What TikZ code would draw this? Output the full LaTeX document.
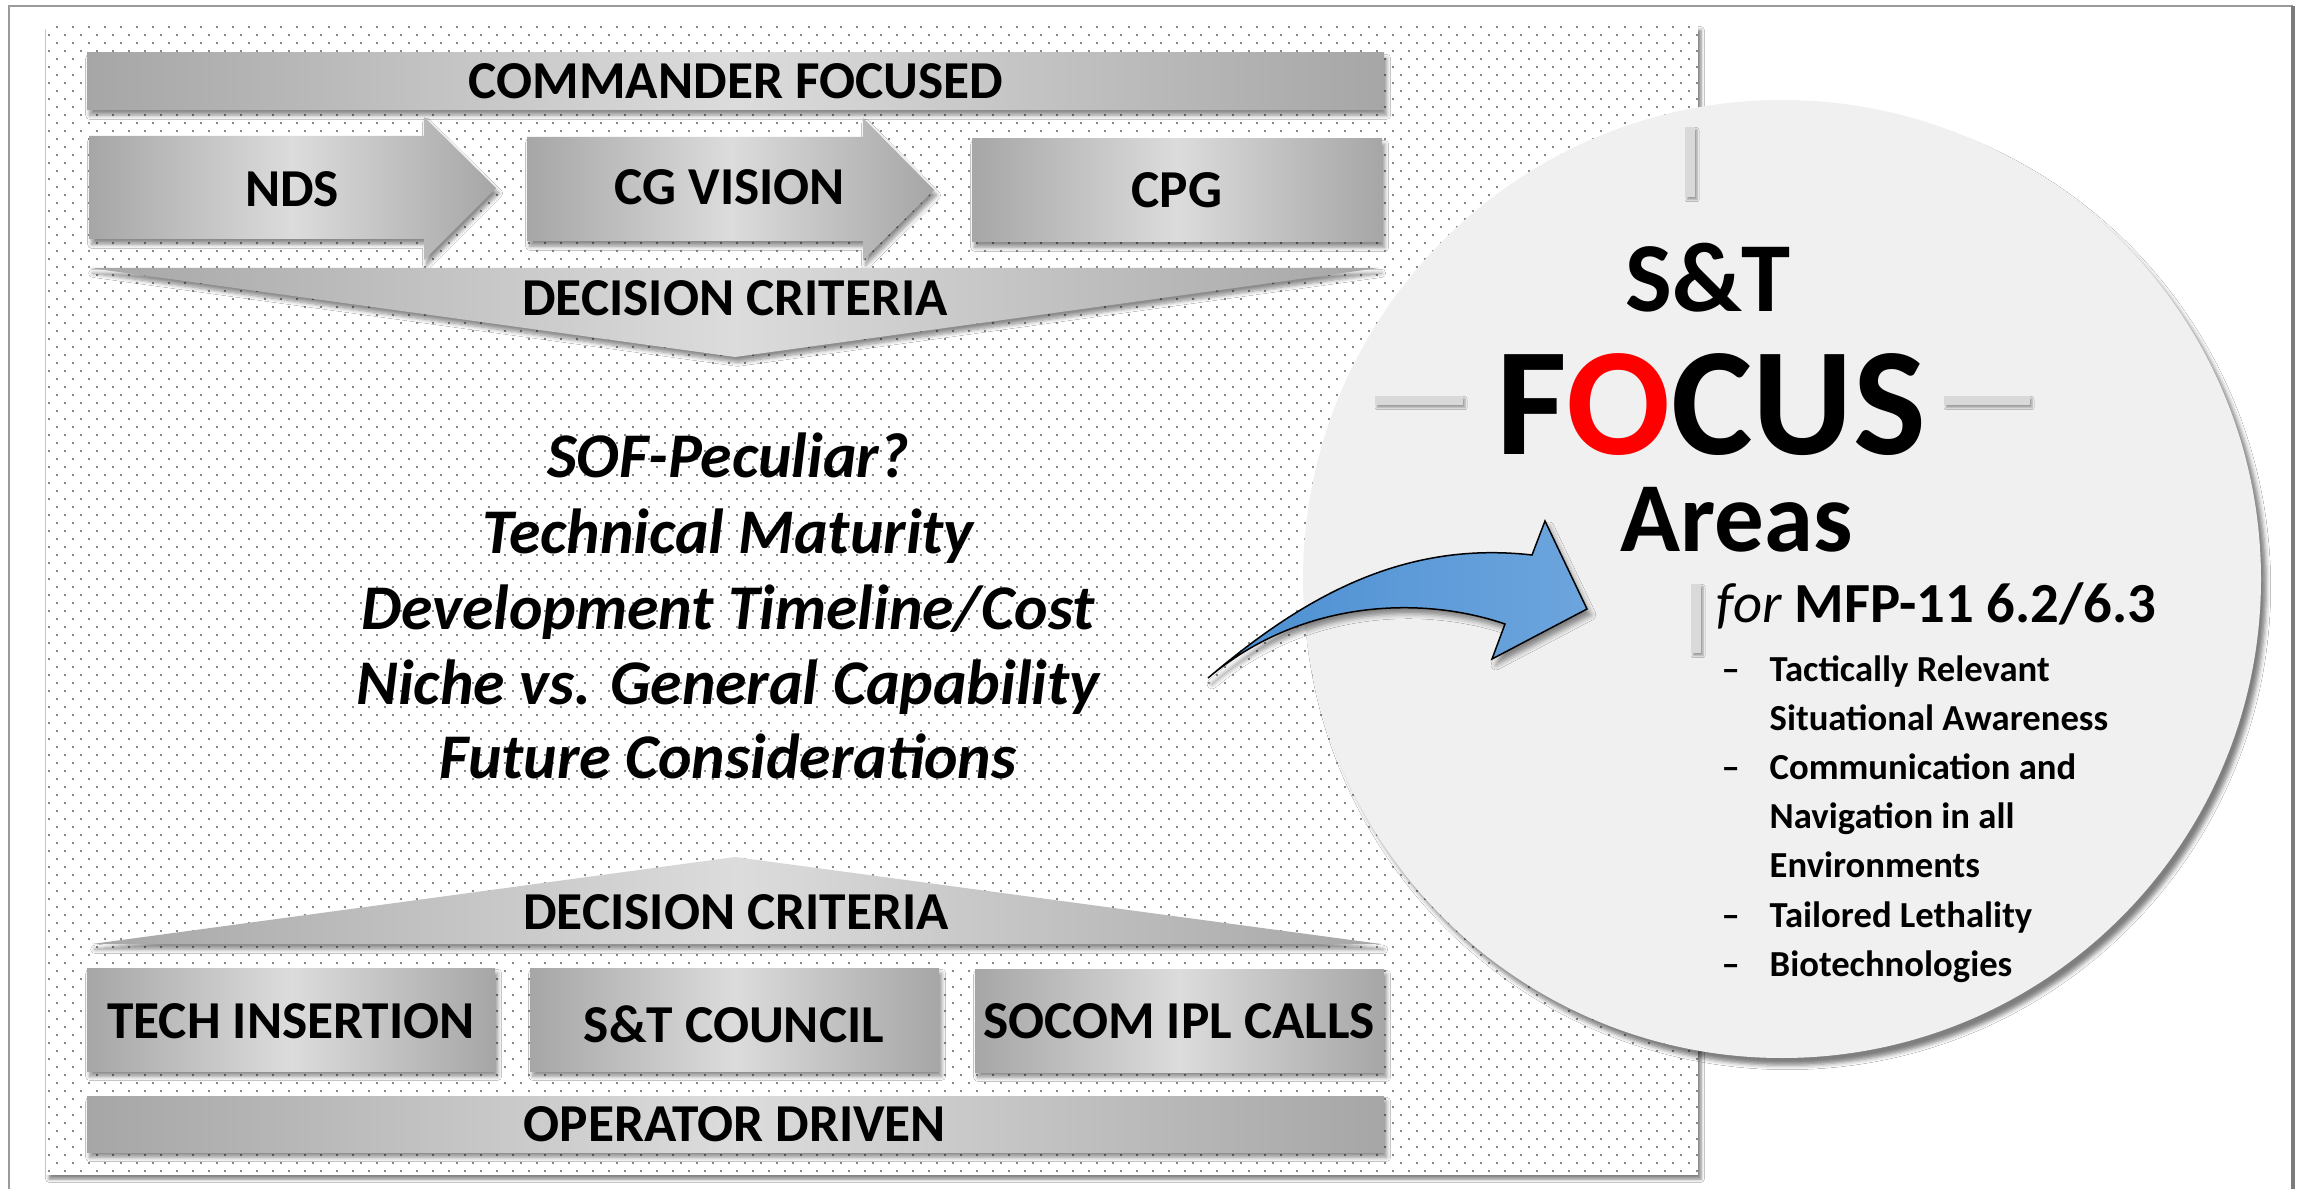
\documentclass[tikz,border=0pt]{standalone}
\usepackage{fontspec}
\setmainfont{Carlito}
\usetikzlibrary{shadows.blur,patterns.meta}
\definecolor{sdark}{HTML}{A6A6A6}
\definecolor{slight}{HTML}{DCDCDC}
\definecolor{dotgray}{HTML}{5E5E5E}
\definecolor{framegray}{HTML}{9A9A9A}
\definecolor{circlefill}{HTML}{F0F0F0}
\definecolor{tickgray}{HTML}{D9D9D9}
\definecolor{blueL}{HTML}{4A8ED2}
\definecolor{blueR}{HTML}{6DA5DD}
\definecolor{focusred}{HTML}{FF0000}

\tikzdeclarepattern{
  name=paneldots,
  type=uncolored,
  bounding box={(0pt,0pt) and (4.8pt,4.8pt)},
  tile size={(4.8pt,4.8pt)},
  code={
    \fill (0.6pt,0.6pt) circle (0.33pt);
    \fill (3.0pt,3.0pt) circle (0.33pt);
  }
}

\tikzset{
  softshadow/.style={blur shadow={shadow xshift=0.8pt, shadow yshift=-1.6pt, shadow blur radius=1.2pt, shadow blur steps=8, shadow opacity=45}},
  silver/.style={left color=sdark, right color=sdark, middle color=slight, softshadow},
  boxlbl/.style={inner sep=0pt, font=\fontsize{16pt}{18pt}\selectfont\bfseries},
  critlbl/.style={inner sep=0pt, anchor=base, font=\fontsize{19.1pt}{22pt}\selectfont\bfseries\itshape},
  bigtitle/.style={inner sep=0pt, anchor=base, font=\fontsize{29.7pt}{34pt}\selectfont\bfseries},
  focustitle/.style={inner sep=0pt, anchor=base, font=\fontsize{46.2pt}{52pt}\selectfont\bfseries},
  mfplbl/.style={inner sep=0pt, anchor=base west, font=\fontsize{17pt}{20pt}\selectfont\bfseries},
  bullettext/.style={inner sep=0pt, anchor=base west, font=\fontsize{11pt}{13pt}\selectfont\bfseries},
  tickbar/.style={fill=tickgray, blur shadow={shadow xshift=0.6pt, shadow yshift=-0.8pt, shadow blur radius=0.6pt, shadow opacity=35}},
  bluearrow/.style={left color=blueL, right color=blueR, draw=black, line width=0.45pt, line join=miter,
     blur shadow={shadow xshift=1.2pt, shadow yshift=-1.8pt, shadow blur radius=1.5pt, shadow opacity=45}}
}

\begin{document}
\begin{tikzpicture}[x=0.3pt,y=-0.3pt]
\useasboundingbox (0,0) rectangle (2301,1189);
\fill[white] (0,0) rectangle (2301,1189);

% outer frame
\draw[framegray, line width=0.6pt] (9,1195) -- (9,6) -- (2293,6);
\draw[framegray!80!black, line width=1pt] (2293,6) -- (2293,1195);

% dotted panel
\fill[white, blur shadow={shadow xshift=0.9pt, shadow yshift=-1.2pt, shadow blur radius=1pt, shadow opacity=50}] (46,26) rectangle (1698,1175);
\fill[pattern=paneldots, pattern color=dotgray] (46,26) rectangle (1698,1175);

% commander focused
\path[silver] (87,53) rectangle (1384,110);
\node[boxlbl] (cmd) at (736,81.5) {COMMANDER FOCUSED};

% NDS arrow
\path[silver] (89,136) -- (424,136) -- (424,117) -- (496,188) -- (424,260) -- (424,239) -- (89,239) -- cycle;
\node[boxlbl] (nds) at (292,189) {NDS};
% CG VISION arrow
\path[silver] (527,137) -- (863,137) -- (863,118) -- (934,190) -- (863,260) -- (863,241) -- (527,241) -- cycle;
\node[boxlbl] (cgv) at (730,187) {CG VISION};
% CPG box
\path[silver] (972,139) rectangle (1382,242);
\node[boxlbl] (cpg) at (1177,190) {CPG};

% top decision criteria
\path[silver] (90,268) -- (1379,268) -- (735,357) -- cycle;
\node[boxlbl] (dctop) at (735,298) {DECISION CRITERIA};

% criteria list
\node[critlbl] (c1) at (728,477) {SOF-Peculiar?};
\node[critlbl] (c2) at (728,553) {Technical Maturity};
\node[critlbl] (c3) at (728,629) {Development Timeline/Cost};
\node[critlbl] (c4) at (728,704) {Niche vs. General Capability};
\node[critlbl] (c5) at (728,778) {Future Considerations};

% bottom decision criteria
\path[silver] (92,944) -- (735,857) -- (1381,944) -- cycle;
\node[boxlbl] (dcbot) at (736,912) {DECISION CRITERIA};

% bottom boxes
\path[silver] (87,968) rectangle (495,1071);
\node[boxlbl] (tech) at (291,1021) {TECH INSERTION};
\path[silver] (530,968) rectangle (939,1071);
\node[boxlbl] (council) at (734,1024) {S\&T COUNCIL};
\path[silver] (975,969) rectangle (1384,1072);
\node[boxlbl] (socom) at (1179,1021) {SOCOM IPL CALLS};

% operator driven
\path[silver] (87,1096) rectangle (1384,1152);
\node[boxlbl] (opd) at (735,1124) {OPERATOR DRIVEN};

% focus circle
\fill[circlefill, blur shadow={shadow xshift=1.6pt, shadow yshift=-2.2pt, shadow blur radius=1.3pt, shadow opacity=50}] (1782,579) circle (143.7pt);

% crosshair ticks
\path[tickbar] (1685,127) rectangle (1695,197);
\path[tickbar] (1691,584) rectangle (1701,653);
\path[tickbar] (1375,396) rectangle (1463,405);
\path[tickbar] (1944,396) rectangle (2030,405);

% titles
\node[bigtitle] (st) at (1708,312) {S\&T};
\node[focustitle] (focus) at (1711,454) {F\textcolor{focusred}{O}CUS};
\node[bigtitle, anchor=base west] (areas) at (1620,551) {Areas};
\node[mfplbl] (mfp) at (1716,622) {{\fontseries{m}\itshape for} MFP-11 6.2/6.3};

% bullet list
\node[bullettext] (d1) at (1721,681) {–};
\node[bullettext] (t1) at (1769,681) {Tactically Relevant};
\node[bullettext] (t1b) at (1769,730) {Situational Awareness};
\node[bullettext] (d2) at (1721,779) {–};
\node[bullettext] (t2) at (1769,779) {Communication and};
\node[bullettext] (t2b) at (1769,828) {Navigation in all};
\node[bullettext] (t2c) at (1769,877) {Environments};
\node[bullettext] (d3) at (1721,927) {–};
\node[bullettext] (t3) at (1769,927) {Tailored Lethality};
\node[bullettext] (d4) at (1721,976) {–};
\node[bullettext] (t4) at (1769,976) {Biotechnologies};

% blue curved arrow
\path[bluearrow] (1208,678) .. controls (1300,600) and (1400,540) .. (1532,555)
   -- (1545,521) -- (1587,609) -- (1492,659) -- (1505,624)
   .. controls (1420,595) and (1300,600) .. cycle;
\end{tikzpicture}
\end{document}
